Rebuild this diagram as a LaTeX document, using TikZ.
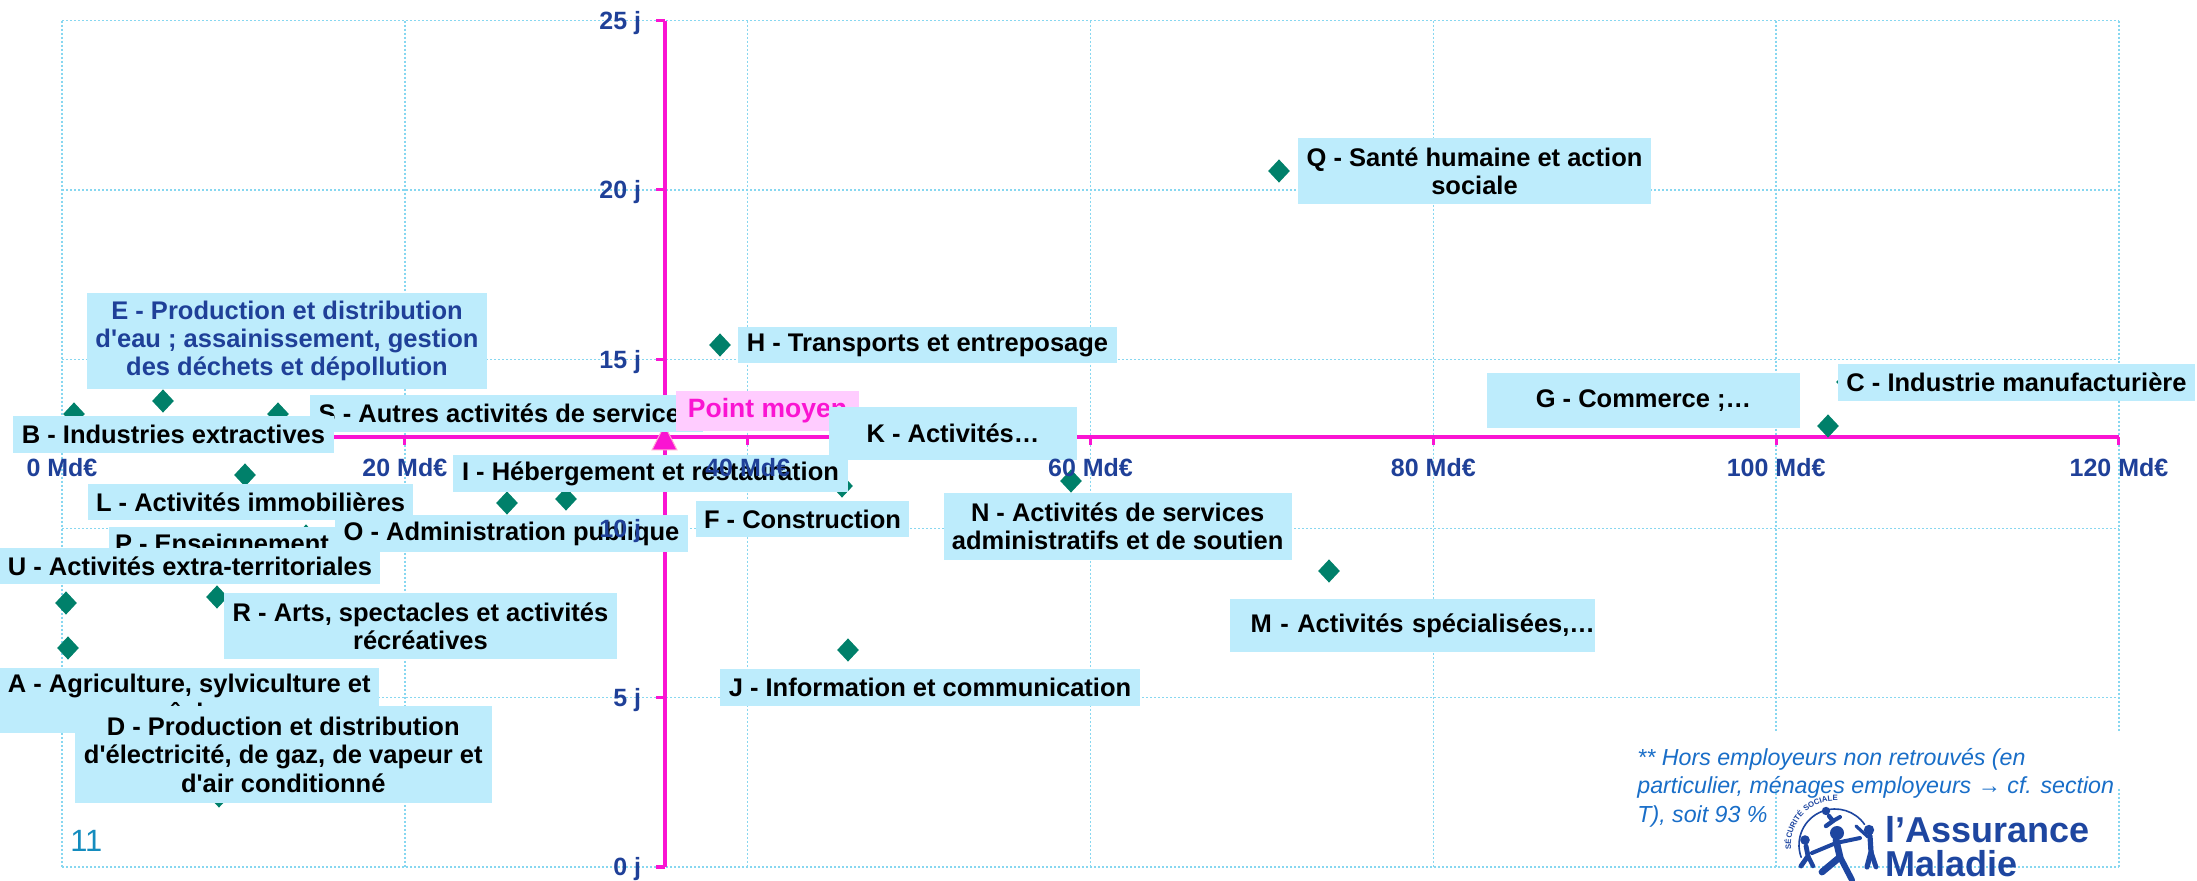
\documentclass[tikz,border=0pt]{standalone}
\usepackage{fontspec}
\newfontfamily\lsans{Liberation Sans}
\usetikzlibrary{shapes.geometric,decorations.text}
\definecolor{lblcyan}{RGB}{189,236,252}
\definecolor{pmpink}{RGB}{255,204,255}
\definecolor{mag}{RGB}{250,20,210}
\definecolor{tribord}{RGB}{255,170,210}
\definecolor{axblue}{RGB}{31,64,152}
\definecolor{gridc}{RGB}{135,215,240}
\definecolor{dgreen}{RGB}{0,128,106}
\definecolor{footblue}{RGB}{25,110,200}
\definecolor{pgblue}{RGB}{20,140,190}
\definecolor{logoblue}{RGB}{30,70,160}
\tikzset{
  gridln/.style={draw=gridc, line width=0.7pt, dash pattern=on 1pt off 1pt},
  axisln/.style={draw=mag, line width=2pt},
  tickln/.style={draw=mag, line width=1.5pt},
  datapt/.style={shape=diamond, fill=dgreen, inner sep=0pt, minimum width=11pt, minimum height=11.75pt},
  lbl/.style={fill=lblcyan, inner sep=0pt, align=center, text=black, font=\lsans\bfseries\fontsize{12.75}{14.2}\selectfont},
  axlbl/.style={text=axblue, inner sep=0pt, font=\lsans\bfseries\fontsize{12.5}{14}\selectfont},
  footnt/.style={text=footblue, inner sep=0pt, align=left, font=\lsans\itshape\fontsize{11.6}{14.25}\selectfont},
  logotxt/.style={text=logoblue, inner sep=0pt, font=\lsans\bfseries\fontsize{18}{20}\selectfont},
  fig/.style={draw=logoblue, line cap=round, line join=round},
}
\begin{document}
\begin{tikzpicture}[x=0.5pt,y=-0.5pt]
\useasboundingbox (0,0) rectangle (2197,881);
% grid
\foreach \k in {0,...,6} {\draw[gridln] ({62+342.83*\k},20.75) -- ({62+342.83*\k},867);}
\foreach \k in {0,...,5} {\draw[gridln] (62,{867-169.25*\k}) -- (2119,{867-169.25*\k});}
\fill[white] (1630,733) rectangle (2130,787);
% axes
\draw[axisln] (664.5,20.75) -- (664.5,867);
\draw[axisln] (62,437.3) -- (2119,437.3);
\foreach \k in {0,...,5} {\draw[tickln] (656,{867-169.25*\k}) -- (664.5,{867-169.25*\k});}
\foreach \k in {0,...,6} {\draw[tickln] ({62+342.83*\k},437.3) -- ({62+342.83*\k},445);}
% data points
\node[datapt] (pB) at (74,414) {};
\node[datapt] (pE) at (163,401) {};
\node[datapt] (pS) at (278,414) {};
\node[datapt] (pL) at (245,475) {};
\node[datapt] (pI) at (566,499) {};
\node[datapt] (pO) at (507,503) {};
\node[datapt] (pP) at (306,536) {};
\node[datapt] (pU) at (66,603) {};
\node[datapt] (pR) at (217,597) {};
\node[datapt] (pA) at (68,648) {};
\node[datapt] (pD) at (219,796) {};
\node[datapt] (pH) at (720,345) {};
\node[datapt] (pQ) at (1279,171) {};
\node[datapt] (pF) at (842,486) {};
\node[datapt] (pN) at (1071,481) {};
\node[datapt] (pJ) at (848,650) {};
\node[datapt] (pM) at (1329,571) {};
\node[datapt] (pC) at (1828,426) {};
\node[datapt] (pG) at (1847,382) {};
% mean point
\filldraw[fill=mag, draw=tribord, line width=0.5pt] (652,450) -- (677,450) -- (664.5,425) -- cycle;
% labels
\node[lbl, minimum width=196.5pt, minimum height=18.5pt] (lS) at (506.5,413.5) {S - Autres activités de services};
\node[lbl, minimum width=160.5pt, minimum height=18.5pt] (lB) at (173.5,434.5) {B - Industries extractives};
\node[lbl, fill=pmpink, text=mag, font=\lsans\bfseries\fontsize{13.25}{15}\selectfont, minimum width=91.5pt, minimum height=20pt] (lPM) at (767.5,411) {Point moyen};
\node[lbl, text=axblue, minimum width=200pt, minimum height=48pt] (lE) at (287,341) {E - Production et distribution\\d'eau ; assainissement, gestion\\des déchets et dépollution};
\node[lbl, minimum width=162.5pt, minimum height=18pt] (lL) at (250.5,502) {L - Activités immobilières};
\node[lbl, minimum width=113pt, minimum height=18.5pt] (lP) at (222,545.5) {P - Enseignement};
\node[lbl, minimum width=190pt, minimum height=18pt] (lU) at (190,566) {U - Activités extra-territoriales};
\node[lbl, minimum width=124.25pt, minimum height=26.5pt] (lK) at (953,433.5) {K - Activités…};
\node[lbl, minimum width=197.5pt, minimum height=18.5pt] (lI) at (650.5,473.5) {I - Hébergement et restauration};
\node[lbl, minimum width=176.5pt, minimum height=18.5pt] (lO) at (511.5,533.5) {O - Administration publique};
\node[lbl, minimum width=196.5pt, minimum height=33pt] (lR) at (420.5,626) {R - Arts, spectacles et activités\\récréatives};
\node[lbl, minimum width=189.3pt, minimum height=32.5pt] (lA) at (189.3,700.5) {A - Agriculture, sylviculture et\\pêche};
\node[lbl, minimum width=208.25pt, minimum height=48.5pt] (lD) at (283.25,754.5) {D - Production et distribution\\d'électricité, de gaz, de vapeur et\\d'air conditionné};
\node[lbl, minimum width=189.5pt, minimum height=18pt] (lH) at (927.5,345) {H - Transports et entreposage};
\node[lbl, minimum width=176.5pt, minimum height=33pt] (lQ) at (1474.5,171) {Q - Santé humaine et action\\sociale};
\node[lbl, minimum width=106.5pt, minimum height=17.75pt] (lF) at (802.5,519.25) {F - Construction};
\node[lbl, minimum width=174pt, minimum height=33.5pt] (lN) at (1117.7,526.5) {N - Activités de services\\administratifs et de soutien};
\node[lbl, minimum width=210pt, minimum height=18.5pt] (lJ) at (930,687.5) {J - Information et communication};
\node[lbl, text width=182.5pt, align=right, minimum height=26.5pt] (lM) at (1412.5,625.5) {M - Activités spécialisées,…};
\node[lbl, minimum width=156.5pt, minimum height=27.5pt] (lG) at (1643.5,400.5) {G - Commerce ;…};
\node[lbl, minimum width=178.5pt, minimum height=18.5pt] (lC) at (2016.5,382.5) {C - Industrie manufacturière};
% axis labels
\foreach \k/\lv in {0/0,1/20,2/40,3/60,4/80,5/100,6/120} {\node[axlbl, anchor=base] (xl\k) at ({62+342.83*\k},477) {\lv{} Md€};}
\foreach \k/\lv in {0/0,1/5,2/10,3/15,4/20,5/25} {\node[axlbl, anchor=base east] (yl\k) at (641.5,{876-169.25*\k}) {\lv{} j};}
% footnote
\node[footnt, anchor=north west] (fn) at (1637,748) {** Hors employeurs non retrouvés (en\\particulier, ménages employeurs → cf. section\\T), soit 93 \%};
% page number
\node[text=pgblue, inner sep=0pt, anchor=base west, font=\lsans\fontsize{15.4}{17}\selectfont] (pg) at (70,852) {11};
% logo
\node[logotxt, anchor=base west] (la) at (1885,842) {l’Assurance};
\node[logotxt, anchor=base west] (lmal) at (1885,877) {Maladie};
\draw[fig, line width=0.8pt] (1835,845) ++(160:36) arc[start angle=160, end angle=325, radius=36];
\path[decorate, decoration={text along path, text align=center, text={|\lsans\bfseries\fontsize{3.9}{4.5}\selectfont\color{logoblue}|SÉCURITÉ SOCIALE}}] (1835,845) ++(170:44) arc[start angle=170, end angle=278, radius=44];
\fill[logoblue] (1837,833) circle[radius=7];
\draw[fig, line width=3.4pt] (1836,840) -- (1840,857) -- (1822,872);
\draw[fig, line width=3pt] (1840,857) -- (1852,880);
\draw[fig, line width=2pt] (1812,853) -- (1836,843) -- (1860,838);
\fill[logoblue] (1805,840) circle[radius=4.8];
\draw[fig, line width=2.4pt] (1806,846) -- (1808,856) -- (1801,866);
\draw[fig, line width=2.2pt] (1808,856) -- (1813,866);
\fill[logoblue] (1869,830) circle[radius=5.2];
\draw[fig, line width=2.6pt] (1870,836) -- (1871,852) -- (1867,867);
\draw[fig, line width=2.4pt] (1871,852) -- (1876,867);
\draw[fig, line width=1.6pt] (1868,837) -- (1856,826);
\fill[logoblue] (1826,811) circle[radius=4.2];
\draw[fig, line width=2.2pt] (1829,816) -- (1833,821) -- (1826,826);
\draw[fig, line width=2pt] (1833,821) -- (1840,817);
\end{tikzpicture}
\end{document}
